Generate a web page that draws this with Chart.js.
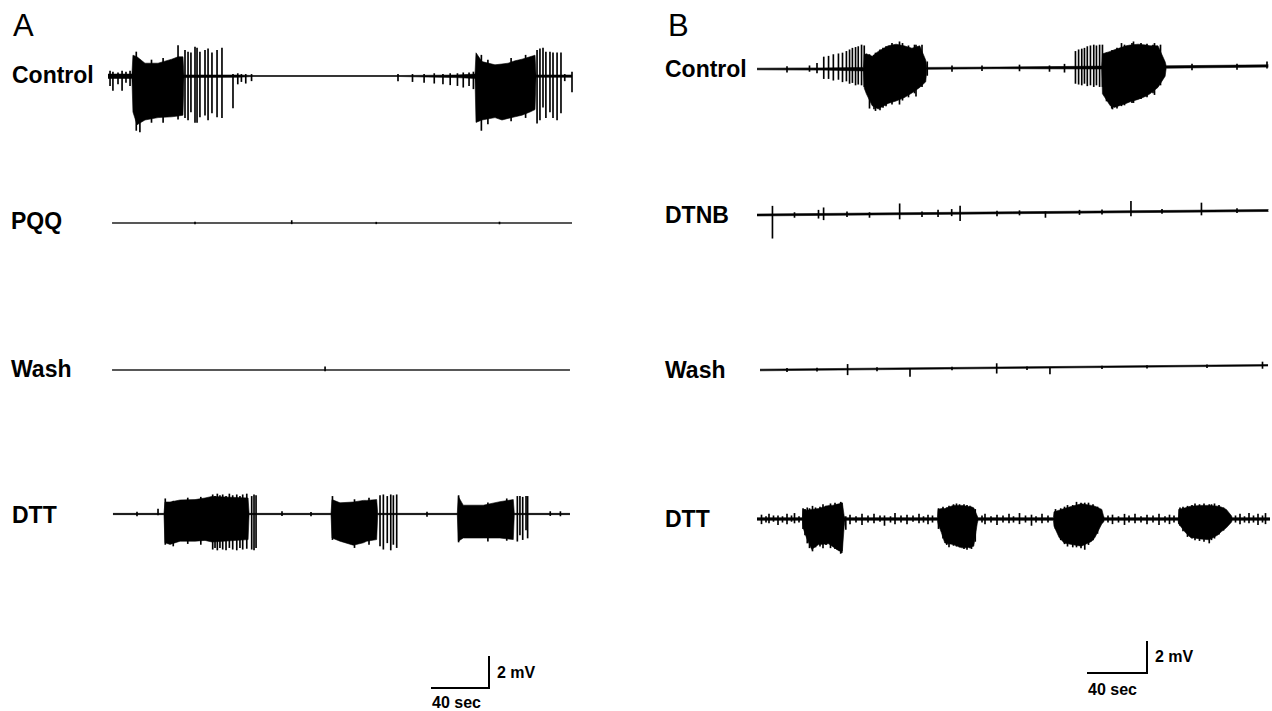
<!DOCTYPE html>
<html>
<head>
<meta charset="utf-8">
<script src="https://cdn.jsdelivr.net/npm/chart.js@4.4.1/dist/chart.umd.min.js"></script>
<style>
  body { margin: 0; background: #fff; width: 1272px; height: 711px; overflow: hidden; position: relative; }
  canvas { position: absolute; }
  .lbl { position: absolute; font-family: "Liberation Sans", Arial, sans-serif; font-weight: bold; font-size: 23px; line-height: 24px; color: #000; white-space: nowrap; }
  .pan { position: absolute; font-family: "Liberation Sans", Arial, sans-serif; font-size: 31px; line-height: 31px; color: #000; }
  .cal { position: absolute; font-family: "Liberation Sans", Arial, sans-serif; font-weight: bold; font-size: 16px; line-height: 16px; color: #000; white-space: nowrap; }
</style>
</head>
<body>
<div class="pan" style="left:13px;top:10px">A</div>
<div class="pan" style="left:668px;top:10px">B</div>
<div class="lbl" style="left:12px;top:63px">Control</div>
<div class="lbl" style="left:11px;top:209px">PQQ</div>
<div class="lbl" style="left:11px;top:357px">Wash</div>
<div class="lbl" style="left:12px;top:503px">DTT</div>
<div class="lbl" style="left:665px;top:57px">Control</div>
<div class="lbl" style="left:665px;top:203px">DTNB</div>
<div class="lbl" style="left:665px;top:358px">Wash</div>
<div class="lbl" style="left:665px;top:507px">DTT</div>
<div class="cal" style="left:497px;top:665px">2 mV</div>
<div class="cal" style="left:432px;top:695px">40 sec</div>
<div class="cal" style="left:1155px;top:649px">2 mV</div>
<div class="cal" style="left:1088px;top:682px">40 sec</div>
<script>
// time in sec, envelope in mV (hi / lo), spikes = [t, lo, hi]

// A - Control
var aCtrlT  = [0, 16.5, 17.2, 20, 25.5, 34.5, 44, 48.3, 51.7, 52.4, 90, 100, 200, 240, 253.1, 253.8, 257.9, 266.9, 271.7, 275.9, 280.7, 285.5, 291, 294.5, 295.2, 320];
var aCtrlHi = [0.12, 0.12, 1.3, 1.2, 0.8, 0.8, 1.05, 1.2, 1.2, 0.06, 0.06, 0.03, 0.03, 0.06, 0.12, 1.45, 0.9, 0.7, 0.75, 0.8, 0.95, 1.05, 1.2, 1.3, 0.06, 0.06];
var aCtrlLo = [-0.15, -0.15, -2.25, -3.05, -2.75, -2.6, -2.55, -2.5, -2.45, -0.1, -0.08, -0.03, -0.03, -0.1, -0.15, -2.9, -2.75, -2.6, -2.75, -2.65, -2.55, -2.45, -2.25, -2.1, -0.08, -0.08];
var aCtrlSpk = [[1.4,-0.6,0.3],[3.4,-0.9,0.25],[6.9,-0.5,0.2],[9.7,-0.9,0.3],[12.4,-0.4,0.25],[15.2,-0.6,0.3],
  [19.5,-3.4,1.5],[22,-3.5,1.0],[30,-2.9,1.0],[38,-2.9,1.1],[48.3,-2.7,1.9],
  [53.1,-2.6,1.6],[55.2,-2.75,1.5],[57.2,-2.25,1.45],[60,-2.9,1.8],[61.4,-2.9,1.75],[63.4,-2.55,1.5],[66.9,-2.45,1.6],[69,-2.75,1.7],[71.7,-2.3,1.45],[75.2,-2.55,1.6],[78.6,-2.6,1.75],[86.2,-2.0,0.1],
  [89.5,-0.5,0.15],[92,-0.35,0.1],[95,-0.45,0.1],[99,-0.3,0.1],
  [200,-0.3,0.1],[210,-0.35,0.1],[218,-0.4,0.1],[225,-0.45,0.15],[231,-0.5,0.1],[236,-0.55,0.15],[241,-0.6,0.15],[245,-0.7,0.2],[249,-0.6,0.2],[252,-0.8,0.25],
  [257.5,-3.4,1.3],[262,-3.0,1.0],[278,-2.8,1.1],[288,-2.6,1.3],
  [295.9,-2.95,1.6],[297.9,-2.75,1.7],[300,-1.95,1.75],[302,-2.6,1.5],[304.8,-2.25,1.5],[306.9,-2.6,1.45],[309.7,-2.75,1.45],[312.4,-2.3,1.45],[315,-0.3,0.1],[320,-1.0,0.25]];

// A - PQQ
var aPqqT  = [2.8, 320];
var aPqqHi = [0.02, 0.02];
var aPqqLo = [-0.02, -0.02];
var aPqqSpk = [[60,-0.05,0.05],[126.7,-0.05,0.15],[185,-0.05,0.05],[270,-0.06,0.06]];

// A - Wash
var aWashT  = [2.8, 318.6];
var aWashHi = [0.02, 0.02];
var aWashLo = [-0.02, -0.02];
var aWashSpk = [[149.7,-0.05,0.2]];

// A - DTT
var aDttT  = [3.4, 38.6, 39.3, 42.8, 49.7, 60, 66.9, 71.7, 96.6, 97.3, 153.8, 154.5, 160, 169.2, 176.1, 178.4, 185.3, 186, 240.9, 241.6, 245, 258.8, 270.3, 279.5, 280.2, 318.6];
var aDttHi = [0.04, 0.04, 0.75, 0.75, 0.875, 0.9, 1.0, 1.1, 1.0, 0.04, 0.04, 0.9, 0.7, 0.75, 0.85, 0.85, 0.9, 0.04, 0.04, 1.1, 0.55, 0.55, 0.77, 0.9, 0.04, 0.04];
var aDttLo = [-0.04, -0.04, -1.8, -1.9, -1.7, -1.7, -1.65, -1.75, -1.6, -0.04, -0.04, -1.5, -1.7, -1.95, -1.8, -1.7, -1.6, -0.04, -0.04, -1.7, -1.5, -1.5, -1.5, -1.6, -0.04, -0.04];
var aDttSpk = [[20,-0.12,0.12],[34.5,-0.05,0.3],[39.5,-1.9,0.95],[45,-2.0,0.8],[55,-1.85,1.0],[64,-1.9,1.05],
  [72.2,-2.2,1.2],[73.8,-2.1,1.1],[75.4,-2.25,1.25],[77.2,-2.1,1.15],[79.1,-2.2,1.2],[81.4,-2.25,1.1],[83.7,-2.1,1.25],[86,-2.2,1.15],[88.8,-2.25,1.2],[91,-2.1,1.1],[92.9,-2.2,1.2],[95.7,-2.15,1.25],[99.1,-2.2,1.1],[100.7,-2.25,1.2],[102.1,-2.1,1.15],
  [120,-0.1,0.15],[140,-0.12,0.1],
  [154.8,-1.6,1.1],[170,-2.1,0.9],[180,-1.9,1.0],
  [187.6,-2.0,1.15],[189.9,-2.2,1.2],[192.6,-1.8,1.1],[195,-2.25,1.2],[196.8,-1.9,1.15],[199.1,-2.1,1.2],
  [220,-0.15,0.12],
  [241.8,-1.75,1.15],[262,-1.7,0.7],[275,-1.65,0.95],
  [282.3,-1.7,1.1],[284.1,-1.3,1.1],[286,-1.6,1.05],[288.3,-1.0,1.1],[289.4,-1.5,1.1],
  [305,-0.1,0.15],[312,-0.12,0.15]];

// B - Control
var bCtrlT  = [0, 44, 71, 71.5, 72.9, 76.8, 80.8, 87.4, 92.7, 98, 103.3, 108.5, 112.5, 113.2, 160, 229.8, 230.3, 235.5, 238.2, 246.1, 248.8, 254.1, 259.3, 262, 267.3, 272.1, 272.8, 341];
var bCtrlHi = [0.05, 0.07, 0.1, 0.9, 0.95, 0.8, 1.1, 1.45, 1.55, 1.45, 1.3, 1.45, 0.55, 0.1, 0.12, 0.18, 0.95, 1.1, 1.2, 1.45, 1.5, 1.55, 1.5, 1.45, 1.45, 0.45, 0.2, 0.26];
var bCtrlLo = [-0.05, -0.07, -0.12, -1.2, -1.55, -2.3, -2.5, -2.15, -2.0, -1.8, -1.5, -1.15, -0.8, -0.02, 0.02, 0.0, -1.55, -2.3, -2.4, -2.15, -2.05, -1.9, -1.7, -1.55, -1.15, -0.45, 0.05, 0.12];
var bCtrlSpk = [[20,-0.2,0.15],[35,-0.15,0.2],[40,-0.25,0.35],
  [44.5,-0.6,0.75],[47.7,-0.6,0.8],[50.9,-0.7,0.9],[54.3,-0.65,0.95],[57,-0.8,1.0],[59.6,-0.75,1.1],[61.7,-0.9,1.2],[63.6,-0.85,1.3],[65.7,-1.0,1.35],[67.5,-0.95,1.4],[69.7,-1.0,1.5],[71.5,-1.1,1.45],
  [75,-2.45,0.9],[78,-2.5,0.85],[79,-2.6,1.0],[82,-2.55,1.2],[84,-2.4,1.3],[86,-2.3,1.4],[90,-2.2,1.6],[95,-2.2,1.7],[97,-1.95,1.6],[101,-1.75,1.45],[105,-1.5,1.5],[106,-1.7,1.5],[110,-1.1,1.5],[113.5,-0.4,0.45],
  [130,-0.15,0.2],[150,-0.1,0.2],[175,-0.12,0.25],[195,-0.15,0.2],[205,-0.2,0.3],
  [212.3,-0.9,1.1],[214.4,-0.95,1.2],[216.5,-1.0,1.25],[218.3,-0.9,1.3],[220.2,-1.05,1.4],[222.3,-1.0,1.45],[224.5,-1.1,1.5],[226.3,-1.0,1.45],[228.4,-1.1,1.5],[230.3,-1.1,1.5],
  [233,-2.0,1.0],[236.5,-2.45,1.15],[237,-2.5,1.15],[240,-2.45,1.3],[243,-2.3,1.6],[245,-2.25,1.5],[250,-2.1,1.6],[251,-2.1,1.7],[256,-1.85,1.6],[260,-1.75,1.55],[264,-1.5,1.5],[265,-1.6,1.6],[269,-1.0,1.5],
  [290,-0.05,0.3],[320,-0.02,0.3],[340,0.05,0.45]];

// B - DTNB
var bDtnbT  = [0, 341];
var bDtnbHi = [0.06, 0.34];
var bDtnbLo = [-0.06, 0.22];
var bDtnbSpk = [[10.3,-1.45,0.55],[25,-0.15,0.15],[41,-0.2,0.3],[44.4,-0.3,0.45],[60,-0.1,0.2],[75,-0.15,0.15],[95.1,-0.25,0.7],[110,-0.1,0.2],
  [120.7,-0.1,0.3],[129.8,-0.05,0.35],[135.4,-0.35,0.55],[160,-0.05,0.25],[175,0.0,0.27],[192.3,-0.15,0.2],[215,0.03,0.3],[230,0.05,0.32],
  [249.3,-0.05,0.85],[270,0.1,0.35],[296.3,0.0,0.75],[320,0.15,0.4]];

// B - Wash
var bWashT  = [2, 340.7];
var bWashHi = [0.05, 0.34];
var bWashLo = [-0.05, 0.25];
var bWashSpk = [[20,-0.1,0.1],[40,-0.08,0.12],[60.4,-0.3,0.35],[80,-0.05,0.15],[102,-0.4,0.1],[130,0.0,0.18],[159.8,-0.2,0.4],
  [180,0.02,0.2],[195.3,-0.25,0.15],[230,0.08,0.25],[260,0.12,0.28],[300,0.15,0.32],[337,0.1,0.5]];

// B - DTT
var bDttT  = [0, 30.3, 30.7, 33.1, 36.5, 41, 47.8, 50.1, 54.7, 56.9, 58.1, 58.7, 120.3, 120.7, 122.9, 125.2, 130.9, 136.5, 140, 144.5, 146.8, 147.4, 197.6, 198, 201.4, 204.8, 210, 216.2, 223, 225.3, 229.9, 231, 231.6, 280.7, 281.1, 285.6, 289, 295.8, 301.5, 307.2, 309.5, 312.9, 316.3, 316.9, 342];
var bDttHi = [0.08, 0.08, 0.6, 0.55, 0.6, 0.65, 0.85, 0.85, 0.95, 1.0, 0.2, 0.08, 0.08, 0.6, 0.65, 0.65, 0.85, 0.85, 0.8, 0.7, 0.2, 0.08, 0.08, 0.45, 0.55, 0.65, 0.8, 0.95, 0.85, 0.8, 0.6, 0.2, 0.08, 0.08, 0.6, 0.7, 0.8, 0.85, 0.85, 0.8, 0.75, 0.6, 0.2, 0.08, 0.08];
var bDttLo = [-0.08, -0.08, -0.55, -1.2, -1.9, -1.6, -1.55, -1.7, -2.0, -2.0, -0.5, -0.08, -0.08, -0.3, -0.85, -1.5, -1.6, -1.8, -1.8, -1.7, -0.3, -0.08, -0.08, -0.45, -1.15, -1.5, -1.6, -1.7, -1.4, -1.15, -0.3, -0.2, -0.08, -0.08, -0.3, -0.85, -1.15, -1.25, -1.3, -1.0, -0.8, -0.55, -0.2, -0.08, -0.08];
var bDttSpk = [[3,-0.3,0.25],[6,-0.2,0.15],[8,-0.25,0.3],[11,-0.15,0.2],[14,-0.35,0.2],[17,-0.2,0.15],[20,-0.3,0.3],[23,-0.15,0.2],[25,-0.25,0.35],[28,-0.2,0.15],
  [30.7,-0.6,0.65],[32,-1.0,0.6],[33.5,-1.5,0.7],[35,-1.8,0.65],[37,-2.0,0.8],[39,-1.75,0.7],[42,-1.7,0.75],[44,-1.8,0.9],[46,-1.6,0.8],[49,-1.8,0.95],[52,-1.85,1.0],[53.5,-1.9,0.9],[55.8,-2.15,1.05],[56.5,-2.1,1.0],[59.2,-0.65,0.15],
  [62,-0.3,0.25],[66,-0.2,0.15],[70,-0.35,0.3],[74,-0.2,0.2],[78,-0.25,0.3],[82,-0.15,0.2],[85,-0.4,0.2],[89,-0.2,0.15],[92,-0.3,0.35],[96,-0.2,0.2],[100,-0.3,0.25],[104,-0.15,0.2],[108,-0.25,0.3],[111,-0.2,0.15],[114,-0.3,0.25],[117,-0.2,0.2],
  [121,-0.6,0.65],[124,-1.2,0.75],[126.5,-1.6,0.7],[128,-1.75,0.8],[131,-1.65,0.9],[133,-1.7,0.95],[135,-1.75,0.9],[138,-1.85,0.9],[140,-1.9,0.85],[142,-1.8,0.8],[143,-1.85,0.75],[145.5,-1.4,0.6],
  [150,-0.2,0.2],[152,-0.3,0.3],[156,-0.2,0.15],[160,-0.35,0.25],[164,-0.2,0.2],[168,-0.25,0.3],[171,-0.2,0.15],[175,-0.3,0.35],[179,-0.2,0.2],[183,-0.4,0.25],[186,-0.2,0.15],[190,-0.25,0.3],[194,-0.2,0.2],
  [199,-0.6,0.6],[202.5,-1.3,0.65],[205,-1.55,0.75],[207,-1.7,0.85],[210.5,-1.75,0.85],[213,-1.75,1.05],[216,-1.8,1.0],[218.5,-1.9,1.0],[221,-1.6,1.0],[224,-1.3,0.9],[227,-0.9,0.75],
  [234,-0.2,0.2],[237,-0.3,0.25],[241,-0.2,0.15],[245,-0.35,0.3],[248,-0.2,0.2],[252,-0.25,0.3],[256,-0.2,0.15],[260,-0.3,0.25],[264,-0.2,0.2],[268,-0.35,0.3],[272,-0.2,0.15],[275,-0.3,0.25],[278,-0.2,0.2],
  [282,-0.4,0.7],[284,-0.75,0.75],[287,-1.1,0.8],[290,-1.2,0.85],[292,-1.3,0.95],[295,-1.35,0.9],[298,-1.4,0.95],[301.5,-1.5,0.9],[303,-1.3,0.9],[305,-1.2,0.95],[308,-0.95,0.85],[311,-0.7,0.7],
  [319,-0.2,0.2],[322,-0.3,0.3],[325,-0.2,0.15],[328,-0.25,0.35],[331,-0.2,0.2],[334,-0.35,0.3],[337,-0.2,0.2],[339,-0.3,0.35]];

// calibration bars: 40 sec, 2 mV
var calT = [0, 40, 40];
var calV = [0, 0, 2];

var ink = '#000';

// x0/y0 = page pixel of t=0 / 0 mV, pxs = px per sec, pxmv = px per mV
function makeChart(box, datasets) {
  var c = document.createElement('canvas');
  c.width = box.w; c.height = box.h;
  c.style.left = box.left + 'px'; c.style.top = box.top + 'px';
  document.body.appendChild(c);
  new Chart(c.getContext('2d'), {
    type: 'line',
    data: { datasets: datasets },
    options: {
      responsive: false,
      animation: false,
      events: [],
      layout: { padding: 0 },
      plugins: { legend: { display: false }, tooltip: { enabled: false } },
      scales: {
        x: { type: 'linear', display: false, offset: false,
             min: (box.left - box.x0) / box.pxs, max: (box.left + box.w - box.x0) / box.pxs },
        y: { type: 'linear', display: false,
             min: (box.y0 - box.top - box.h) / box.pxmv, max: (box.y0 - box.top) / box.pxmv }
      }
    }
  });
}

function trace(box, t, hi, lo, spk) {
  makeChart(box, [
    { data: t.map(function(v, i) { return { x: v, y: hi[i] }; }),
      borderColor: ink, borderWidth: 0.6, pointRadius: 0, fill: false },
    { data: t.map(function(v, i) { return { x: v, y: lo[i] }; }),
      borderColor: ink, borderWidth: 0.6, pointRadius: 0, fill: '-1', backgroundColor: ink },
    { type: 'bar', data: spk.map(function(s) { return { x: s[0], y: [s[1], s[2]] }; }),
      backgroundColor: ink, barThickness: 1, grouped: false }
  ]);
}

function calBar(box) {
  makeChart(box, [
    { data: calT.map(function(v, i) { return { x: v, y: calV[i] }; }),
      borderColor: ink, borderWidth: 2, pointRadius: 0, fill: false,
      borderCapStyle: 'butt', borderJoinStyle: 'miter' }
  ]);
}

function rowA(y0) { return { left: 100, w: 485, top: y0 - 70, h: 140, x0: 108, y0: y0, pxs: 1.45, pxmv: 16 }; }
function rowB(y0) { return { left: 745, w: 527, top: y0 - 70, h: 140, x0: 757, y0: y0, pxs: 1.5, pxmv: 16 }; }

trace(rowA(76),  aCtrlT, aCtrlHi, aCtrlLo, aCtrlSpk);
trace(rowA(223), aPqqT,  aPqqHi,  aPqqLo,  aPqqSpk);
trace(rowA(370), aWashT, aWashHi, aWashLo, aWashSpk);
trace(rowA(514), aDttT,  aDttHi,  aDttLo,  aDttSpk);

trace(rowB(69),  bCtrlT, bCtrlHi, bCtrlLo, bCtrlSpk);
trace(rowB(215), bDtnbT, bDtnbHi, bDtnbLo, bDtnbSpk);
trace(rowB(370), bWashT, bWashHi, bWashLo, bWashSpk);
trace(rowB(519), bDttT,  bDttHi,  bDttLo,  bDttSpk);

calBar({ left: 420, w: 80, top: 645, h: 55, x0: 431, y0: 688, pxs: 1.45, pxmv: 16 });
calBar({ left: 1077, w: 80, top: 630, h: 55, x0: 1087, y0: 673, pxs: 1.5, pxmv: 16 });
</script>
</body>
</html>
